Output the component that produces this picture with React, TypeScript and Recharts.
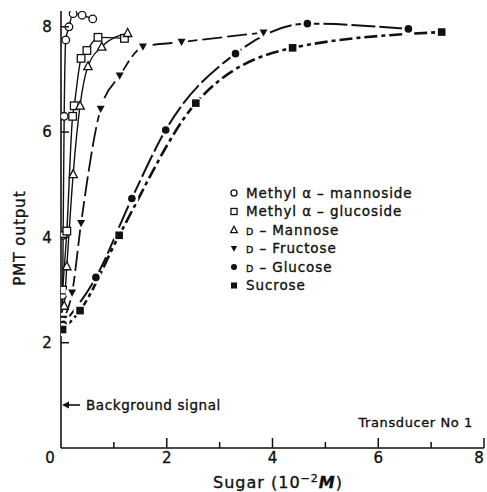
import React from 'react';
import { LineChart, Line, XAxis, YAxis } from 'recharts';

// Sugar concentration (10^-2 M) vs PMT output
const methylMannoside = [
  [0.02, 2.4], [0.03, 2.9], [0.04, 4.04], [0.06, 6.3], [0.09, 7.75],
  [0.15, 8.0], [0.23, 8.25], [0.4, 8.22], [0.6, 8.15],
];
const methylGlucoside = [
  [0.03, 3.0], [0.11, 4.12], [0.22, 6.3], [0.25, 6.5], [0.38, 7.4],
  [0.49, 7.55], [0.7, 7.8], [1.2, 7.78],
];
const dMannose = [
  [0.06, 2.7], [0.11, 3.45], [0.23, 5.2], [0.36, 6.5], [0.51, 7.25],
  [0.77, 7.62], [1.26, 7.88],
];
const dFructose = [
  [0.05, 2.45], [0.21, 2.95], [0.38, 4.27], [0.75, 6.44], [1.11, 7.07],
  [1.55, 7.62], [2.28, 7.71], [3.83, 7.89],
];
const dGlucose = [
  [0.04, 2.35], [0.66, 3.24], [1.34, 4.74], [1.98, 6.04], [3.3, 7.49],
  [4.66, 8.06], [6.57, 7.96],
];
const sucrose = [
  [0.03, 2.25], [0.36, 2.61], [1.1, 4.04], [2.55, 6.55], [4.38, 7.6], [7.2, 7.9],
];

const xTicks = [0, 1, 2, 3, 4, 5, 6, 7, 8];
const yTicks = [2, 4, 6, 8];
const legendLabels = [
  'Methyl α – mannoside',
  'Methyl α – glucoside',
  'Mannose',
  'Fructose',
  'Glucose',
  'Sucrose',
];

const toPts = (arr: number[][]) => arr.map(([x, y]) => ({ x, y }));

const FONT = '"DejaVu Sans", sans-serif';
const INK = '#111';
const TXT = { fontFamily: FONT, fill: INK, stroke: INK, strokeWidth: 0.35 };

type Shape = 'openCircle' | 'openSquare' | 'openTri' | 'fillTriDown' | 'fillCircle' | 'fillSquare';

function Marker({ cx, cy, shape, s = 1, halo = false }: { cx: number; cy: number; shape: Shape; s?: number; halo?: boolean }) {
  const h = halo ? <circle cx={cx} cy={cy} r={6.5 * s} fill="#fff" /> : null;
  switch (shape) {
    case 'openCircle':
      return <g><circle cx={cx} cy={cy} r={3.8 * s} fill="#fff" stroke={INK} strokeWidth={1.3} /></g>;
    case 'openSquare':
      return <g><rect x={cx - 3.8 * s} y={cy - 3.8 * s} width={7.6 * s} height={7.6 * s} fill="#fff" stroke={INK} strokeWidth={1.3} /></g>;
    case 'openTri':
      return <g><polygon points={`${cx},${cy - 4.6 * s} ${cx - 4.2 * s},${cy + 3.4 * s} ${cx + 4.2 * s},${cy + 3.4 * s}`} fill="#fff" stroke={INK} strokeWidth={1.3} /></g>;
    case 'fillTriDown':
      return <g>{h}<polygon points={`${cx - 4 * s},${cy - 3.2 * s} ${cx + 4 * s},${cy - 3.2 * s} ${cx},${cy + 4 * s}`} fill={INK} /></g>;
    case 'fillCircle':
      return <g>{h}<circle cx={cx} cy={cy} r={3.8 * s} fill={INK} /></g>;
    case 'fillSquare':
      return <g>{h}<rect x={cx - 3.8 * s} y={cy - 3.8 * s} width={7.6 * s} height={7.6 * s} fill={INK} /></g>;
  }
  return null;
}

const makeDot = (shape: Shape, halo: boolean) => (p: any) => (
  <Marker key={`${shape}-${p.index}`} cx={p.cx} cy={p.cy} shape={shape} halo={halo} />
);

const XTick = (props: any) => {
  const { x, y, payload } = props;
  const v = payload.value as number;
  const axisY = y - 10;
  const major = v % 2 === 0;
  const lx = v === 0 ? x - 11 : v === 8 ? x - 5 : x;
  return (
    <g>
      {v > 0 && (
        <line x1={x} x2={x} y1={axisY} y2={axisY - (major ? 10 : 6)} stroke={INK} strokeWidth={1.5} />
      )}
      {major && (
        <text x={lx} y={y} dy="0.36em" textAnchor="middle" fontSize={15} {...TXT}>
          {v}
        </text>
      )}
    </g>
  );
};

const YTick = (props: any) => {
  const { x, y, payload } = props;
  const axisX = x + 14;
  return (
    <g>
      <line x1={axisX} x2={axisX + 8} y1={y} y2={y} stroke={INK} strokeWidth={1.5} />
      <text x={x} y={y} dy="0.36em" textAnchor="middle" fontSize={15} {...TXT}>
        {payload.value}
      </text>
    </g>
  );
};

const series: { data: number[][]; shape: Shape; dash?: string; width: number; halo: boolean }[] = [
  { data: methylMannoside, shape: 'openCircle', width: 1.4, halo: false },
  { data: methylGlucoside, shape: 'openSquare', width: 1.4, halo: false },
  { data: dMannose, shape: 'openTri', width: 1.4, halo: false },
  { data: dFructose, shape: 'fillTriDown', dash: '20 5', width: 1.8, halo: true },
  { data: dGlucose, shape: 'fillCircle', dash: '24 4', width: 2.0, halo: true },
  { data: sucrose, shape: 'fillSquare', dash: '13 4 4 4', width: 2.6, halo: true },
];

const legendShapes: Shape[] = ['openCircle', 'openSquare', 'openTri', 'fillTriDown', 'fillCircle', 'fillSquare'];

export default function App() {
  return (
    <div style={{ position: 'absolute', left: 0, top: 0, width: 487, height: 492, background: '#fff' }}>
      <LineChart width={487} height={492} margin={{ top: 11, right: 3, left: 0, bottom: 0 }}>
        <XAxis
          type="number"
          dataKey="x"
          domain={[0, 8]}
          ticks={xTicks}
          interval={0}
          height={44}
          tickLine={false}
          tickSize={0}
          tickMargin={10}
          tick={<XTick />}
          axisLine={{ stroke: INK, strokeWidth: 1.6 }}
          allowDataOverflow
        />
        <YAxis
          type="number"
          dataKey="y"
          domain={[0, 8.3]}
          ticks={yTicks}
          interval={0}
          width={61}
          tickLine={false}
          tickSize={0}
          tickMargin={14}
          tick={<YTick />}
          axisLine={{ stroke: INK, strokeWidth: 1.6 }}
          allowDataOverflow
        />
        {series.map((s, i) => (
          <Line
            key={i}
            data={toPts(s.data)}
            dataKey="y"
            type="monotone"
            stroke={INK}
            strokeWidth={s.width}
            strokeDasharray={s.dash}
            dot={makeDot(s.shape, s.halo)}
            activeDot={false}
            isAnimationActive={false}
          />
        ))}
      </LineChart>
      <svg width={487} height={492} style={{ position: 'absolute', left: 0, top: 0, pointerEvents: 'none' }}>
        {/* legend */}
        {legendLabels.map((lab, i) => {
          const cy = 193 + i * 18.5;
          const isD = i >= 2 && i <= 4;
          return (
            <g key={lab}>
              <Marker cx={234} cy={cy} shape={legendShapes[i]} s={0.8} />
              <text x={246} y={cy} dy="0.36em" fontSize={13.5} letterSpacing={0.9} {...TXT}>
                {isD ? (
                  <>
                    <tspan fontSize={9.5}>D</tspan>
                    <tspan> – {lab}</tspan>
                  </>
                ) : (
                  lab
                )}
              </text>
            </g>
          );
        })}
        {/* background signal annotation */}
        <line x1={67} x2={80} y1={405} y2={405} stroke={INK} strokeWidth={1.6} />
        <polygon points="62,405 69,401.5 69,408.5" fill={INK} />
        <text x={86} y={405} dy="0.36em" fontSize={13.5} letterSpacing={0.6} {...TXT}>
          Background signal
        </text>
        <text x={473} y={422} dy="0.36em" textAnchor="end" fontSize={13} letterSpacing={0.6} {...TXT}>
          Transducer No 1
        </text>
        {/* axis titles */}
        <text
          x={20}
          y={238}
          dy="0.36em"
          textAnchor="middle"
          transform="rotate(-90 20 238)"
          fontSize={15}
          letterSpacing={1}
          {...TXT}
        >
          PMT output
        </text>
        <text x={278} y={482} dy="0.36em" textAnchor="middle" fontSize={16} letterSpacing={1} {...TXT}>
          Sugar{'  '}(10
          <tspan dy={-6} fontSize={11}>−2</tspan>
          <tspan dy={6} fontStyle="italic" fontWeight="bold">M</tspan>)
        </text>
      </svg>
    </div>
  );
}
